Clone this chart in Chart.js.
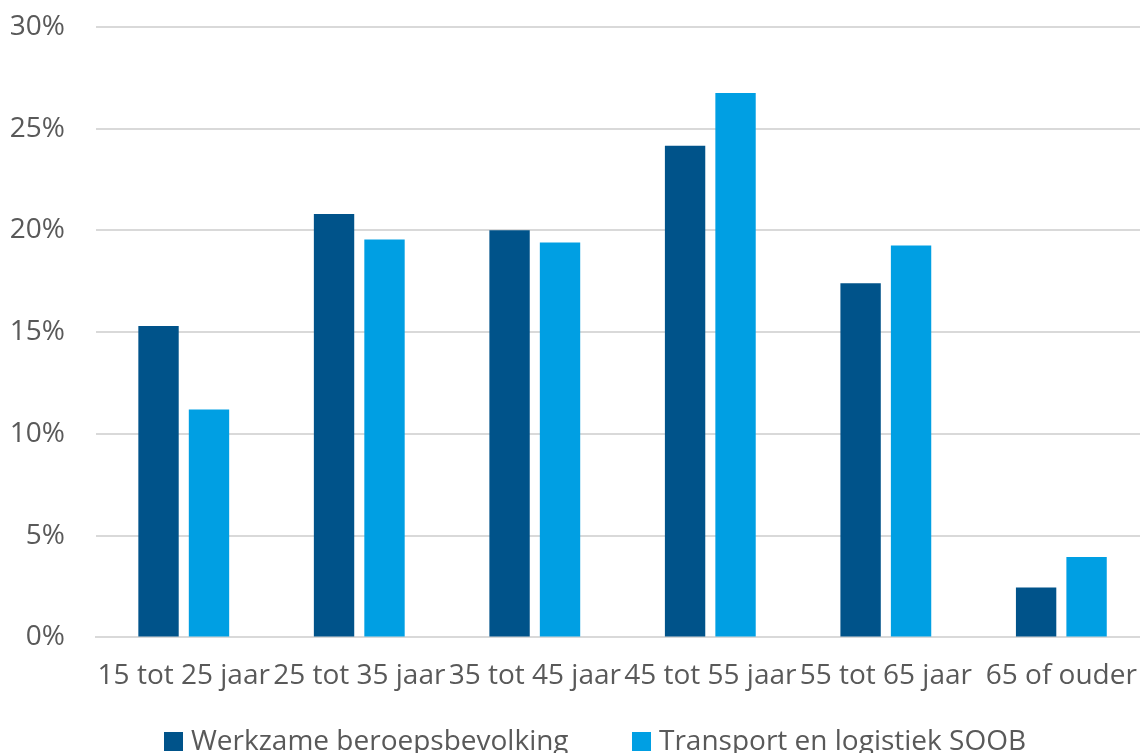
<!DOCTYPE html>
<html>
<head>
<meta charset="utf-8">
<script src="https://cdn.jsdelivr.net/npm/chart.js@4"></script>
<style>
  html, body { margin: 0; padding: 0; background: #fff; overflow: hidden; }
  #wrap { position: relative; width: 1159px; height: 753px; overflow: hidden; }
  #chart { position: absolute; left: 0; top: -21px; }
  #legend {
    position: absolute; left: 0; top: 720px; width: 1150px; height: 40px;
    font-family: "Open Sans"; font-size: 28px; color: #595959; white-space: nowrap;
  }
  #legend .item { position: absolute; top: 0; line-height: 38px; }
  #legend .box { display: inline-block; width: 19px; height: 19px; margin-right: 8px; vertical-align: -1px; }
</style>
</head>
<body>
<div id="wrap">
  <canvas id="chart" width="1159" height="746"></canvas>
  <div id="legend"></div>
</div>
<script>
const categories = ["15 tot 25 jaar", "25 tot 35 jaar", "35 tot 45 jaar", "45 tot 55 jaar", "55 tot 65 jaar", "65 of ouder"];
const werkzame = [15.3, 20.8, 20.0, 24.15, 17.4, 2.45];
const transport = [11.2, 19.55, 19.4, 26.75, 19.25, 3.95];
const seriesNames = ["Werkzame beroepsbevolking", "Transport en logistiek SOOB"];
const seriesColors = ["#00538a", "#009fe3"];

const textColor = "#595959";
const gridColor = "#d9d9d9";
const font = { family: "Open Sans", size: 28 };

const ctx = document.getElementById("chart");

const chart = new Chart(ctx, {
  type: "bar",
  data: {
    labels: categories,
    datasets: [
      {
        label: seriesNames[0],
        data: werkzame,
        backgroundColor: seriesColors[0],
        barPercentage: 0.8,
        categoryPercentage: 0.575
      },
      {
        label: seriesNames[1],
        data: transport,
        backgroundColor: seriesColors[1],
        barPercentage: 0.8,
        categoryPercentage: 0.575
      }
    ]
  },
  options: {
    responsive: false,
    animation: false,
    layout: { padding: { top: 0, right: 1, left: 10, bottom: 10 } },
    plugins: {
      tooltip: { enabled: false },
      legend: { display: false }
    },
    scales: {
      x: {
        grid: { display: false, drawTicks: false },
        border: { color: gridColor, width: 2 },
        ticks: { color: textColor, font: font, padding: 22, maxRotation: 0, autoSkip: false }
      },
      y: {
        min: 0,
        max: 30,
        afterFit: s => { s.width = 86; },
        grid: { color: gridColor, lineWidth: 2, drawTicks: false },
        border: { display: false },
        ticks: {
          stepSize: 5,
          color: textColor,
          font: font,
          padding: 31,
          callback: v => v + "%"
        }
      }
    }
  }
});

// legend in html, built from the datasets
const legendEl = document.getElementById("legend");
const legendLeft = [164, 632];
chart.data.datasets.forEach((ds, i) => {
  const item = document.createElement("div");
  item.className = "item";
  item.style.left = legendLeft[i] + "px";
  item.innerHTML = `<span class="box" style="background:${ds.backgroundColor}"></span>${ds.label}`;
  legendEl.appendChild(item);
});
</script>
</body>
</html>
